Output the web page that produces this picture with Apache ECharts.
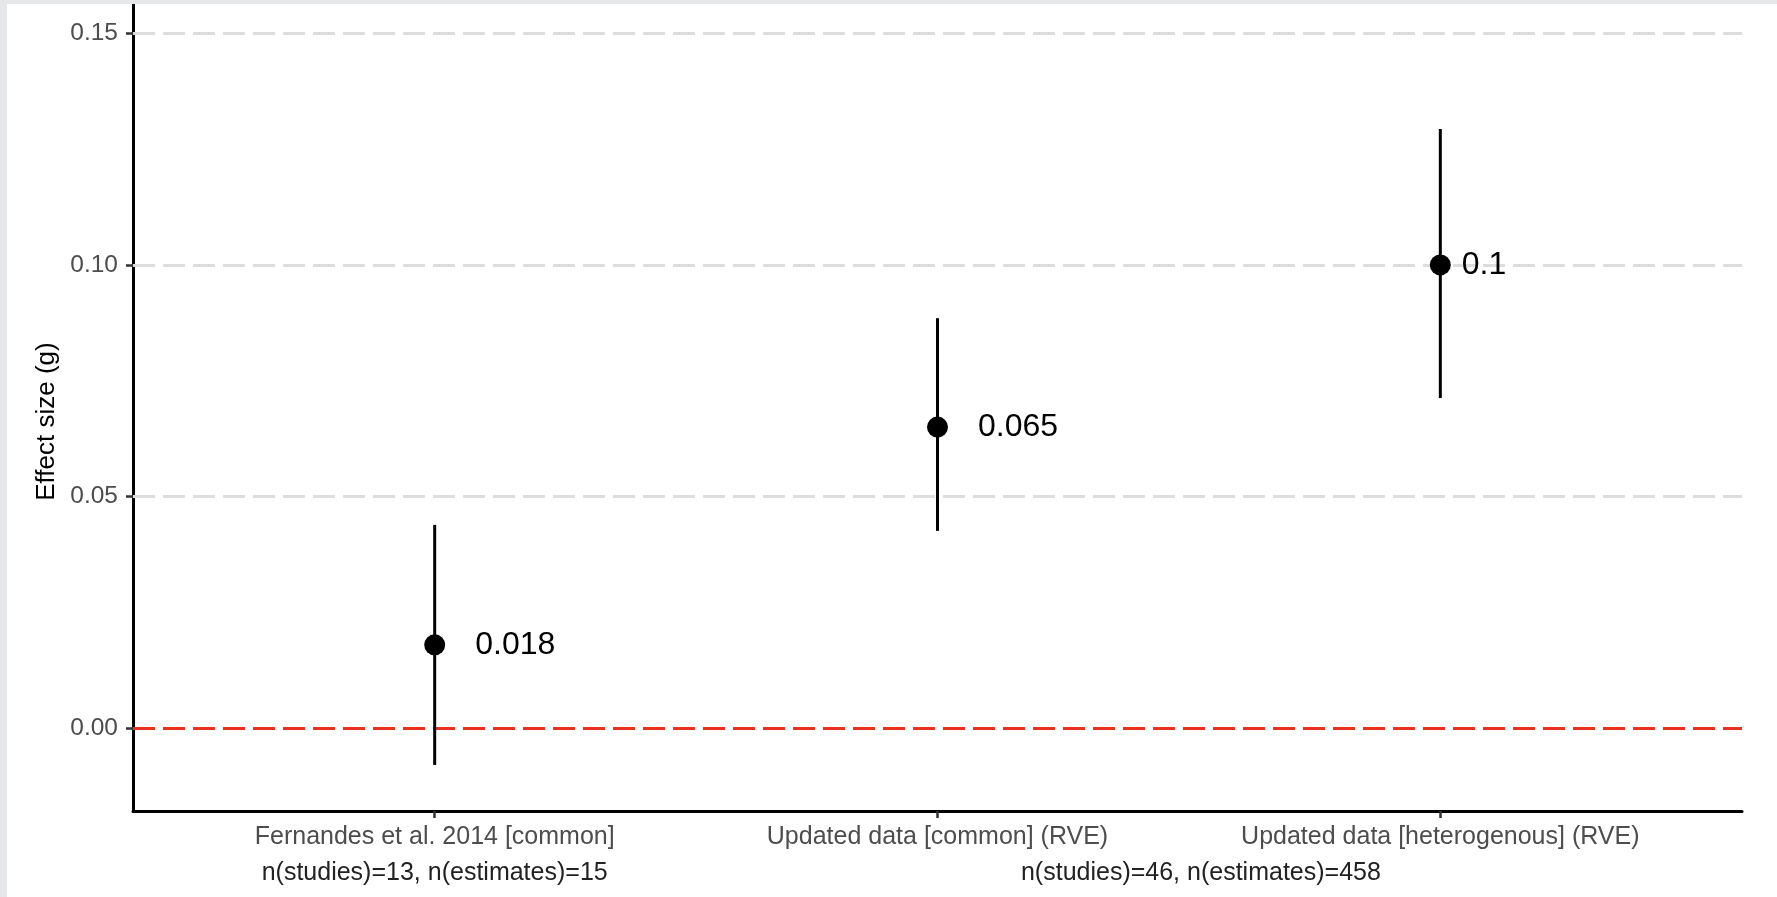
<!DOCTYPE html>
<html>
<head>
<meta charset="utf-8">
<script src="https://cdn.jsdelivr.net/npm/echarts@6/dist/echarts.min.js"></script>
<style>
  html, body { margin: 0; padding: 0; width: 1777px; height: 897px; background: #e6e7e9; overflow: hidden; }
  #chart { position: absolute; left: 7px; top: 4px; width: 1770px; height: 893px; background: #ffffff; }
</style>
</head>
<body>
<div id="chart"></div>
<script>
// ---- data ----
const categories = ['Fernandes et al. 2014 [common]', 'Updated data [common] (RVE)', 'Updated data [heterogenous] (RVE)'];
const categoryPositions = [1, 2, 3];
const estimates = [0.018, 0.065, 0.100];
const ciLow = [-0.0079, 0.0426, 0.0713];
const ciHigh = [0.0439, 0.0885, 0.1293];
const valueLabels = ['0.018', '0.065', '0.1'];
const sampleNotes = ['n(studies)=13, n(estimates)=15', 'n(studies)=46, n(estimates)=458'];
const sampleNotePositions = [1, 2.5];
const yTicks = [0, 0.05, 0.10, 0.15];
const yTickLabels = ['0.00', '0.05', '0.10', '0.15'];
const referenceLine = 0;

// ---- styling constants ----
const FONT = 'Liberation Sans';
const labelGaps = [30, 30, 11];
const noteShift = [0, 24];
const LINE_H = 36;

const chart = echarts.init(document.getElementById('chart'), null, { renderer: 'canvas' });

function near(a, b) { return Math.abs(a - b) < 1e-6; }

function catLabel(v) {
  const i = categoryPositions.findIndex(p => near(p, v));
  return i >= 0 ? categories[i] : '';
}
function noteLabel(v) {
  const i = sampleNotePositions.findIndex(p => near(p, v));
  if (i < 0) return '';
  return '{e|\u00a0}\n{n' + i + '|' + sampleNotes[i] + '}';
}

const noteRich = { e: { fontFamily: FONT, fontSize: 25, lineHeight: LINE_H } };
sampleNotes.forEach((n, i) => {
  noteRich['n' + i] = { fontFamily: FONT, fontSize: 25, lineHeight: LINE_H, color: '#222222', padding: [0, 0, 0, noteShift[i]] };
});

const scatterData = estimates.map((e, i) => ({
  value: [categoryPositions[i], e],
  label: { distance: labelGaps[i] }
}));
const barData = estimates.map((e, i) => [categoryPositions[i], ciLow[i], ciHigh[i]]);

const gridLineData = yTicks.filter(t => !near(t, referenceLine)).map(t => ({ yAxis: t }));

const option = {
  animation: false,
  backgroundColor: '#ffffff',
  grid: { left: 126, right: 35, top: 0, bottom: 86, containLabel: false },
  xAxis: [
    {
      type: 'value',
      min: 0.4,
      max: 3.6,
      position: 'bottom',
      axisLine: { show: true, onZero: false, lineStyle: { color: '#000000', width: 3 } },
      axisTick: { show: true, customValues: categoryPositions, length: 7, lineStyle: { color: '#333333', width: 2.5 } },
      axisLabel: {
        show: true,
        customValues: categoryPositions,
        formatter: catLabel,
        margin: 8,
        fontFamily: FONT,
        fontSize: 25,
        lineHeight: LINE_H,
        color: '#4d4d4d'
      },
      splitLine: { show: false }
    },
    {
      type: 'value',
      min: 0.4,
      max: 3.6,
      position: 'bottom',
      offset: 0,
      axisLine: { show: false, onZero: false },
      axisTick: { show: false },
      axisLabel: {
        show: true,
        customValues: sampleNotePositions,
        formatter: noteLabel,
        margin: 8,
        fontFamily: FONT,
        fontSize: 25,
        lineHeight: LINE_H,
        color: '#222222',
        rich: noteRich
      },
      splitLine: { show: false }
    }
  ],
  yAxis: {
    type: 'value',
    min: -0.01785,
    max: 0.1563,
    name: 'Effect size (g)',
    nameLocation: 'middle',
    nameGap: 72,
    nameTextStyle: { fontFamily: FONT, fontSize: 26, color: '#000000', padding: [0, 28, 0, 0] },
    axisLine: { show: true, onZero: false, lineStyle: { color: '#000000', width: 3 } },
    axisTick: { show: true, customValues: yTicks, length: 7, lineStyle: { color: '#333333', width: 2.5 } },
    axisLabel: {
      show: true,
      customValues: yTicks,
      formatter: v => { const i = yTicks.findIndex(t => near(t, v)); return i >= 0 ? yTickLabels[i] : ''; },
      margin: 15,
      fontFamily: FONT,
      fontSize: 24.5,
      color: '#4d4d4d'
    },
    splitLine: { show: false }
  },
  series: [
    {
      type: 'line',
      z: 1,
      data: [],
      silent: true,
      markLine: {
        z: 1,
        silent: true,
        symbol: ['none', 'none'],
        label: { show: false },
        emphasis: { disabled: true },
        data: gridLineData.map(d => Object.assign({}, d, { lineStyle: { color: '#dddddd', width: 3, type: [22, 8] } }))
          .concat([{ yAxis: referenceLine, lineStyle: { color: '#e8321f', width: 3, type: [22, 8] } }])
      }
    },
    {
      type: 'custom',
      z: 6,
      data: barData,
      encode: { x: 0, y: [1, 2] },
      silent: true,
      renderItem: function (params, api) {
        const x = api.value(0);
        const p1 = api.coord([x, api.value(1)]);
        const p2 = api.coord([x, api.value(2)]);
        return {
          type: 'line',
          shape: { x1: p1[0], y1: p1[1], x2: p2[0], y2: p2[1] },
          style: { stroke: '#000000', lineWidth: 3 }
        };
      }
    },
    {
      type: 'scatter',
      z: 7,
      data: scatterData,
      symbol: 'circle',
      symbolSize: 21,
      itemStyle: { color: '#000000', opacity: 1 },
      silent: true,
      label: {
        show: true,
        position: 'right',
        fontFamily: FONT,
        fontSize: 32,
        color: '#000000',
        formatter: p => valueLabels[p.dataIndex]
      }
    }
  ]
};

chart.setOption(option);
</script>
</body>
</html>
